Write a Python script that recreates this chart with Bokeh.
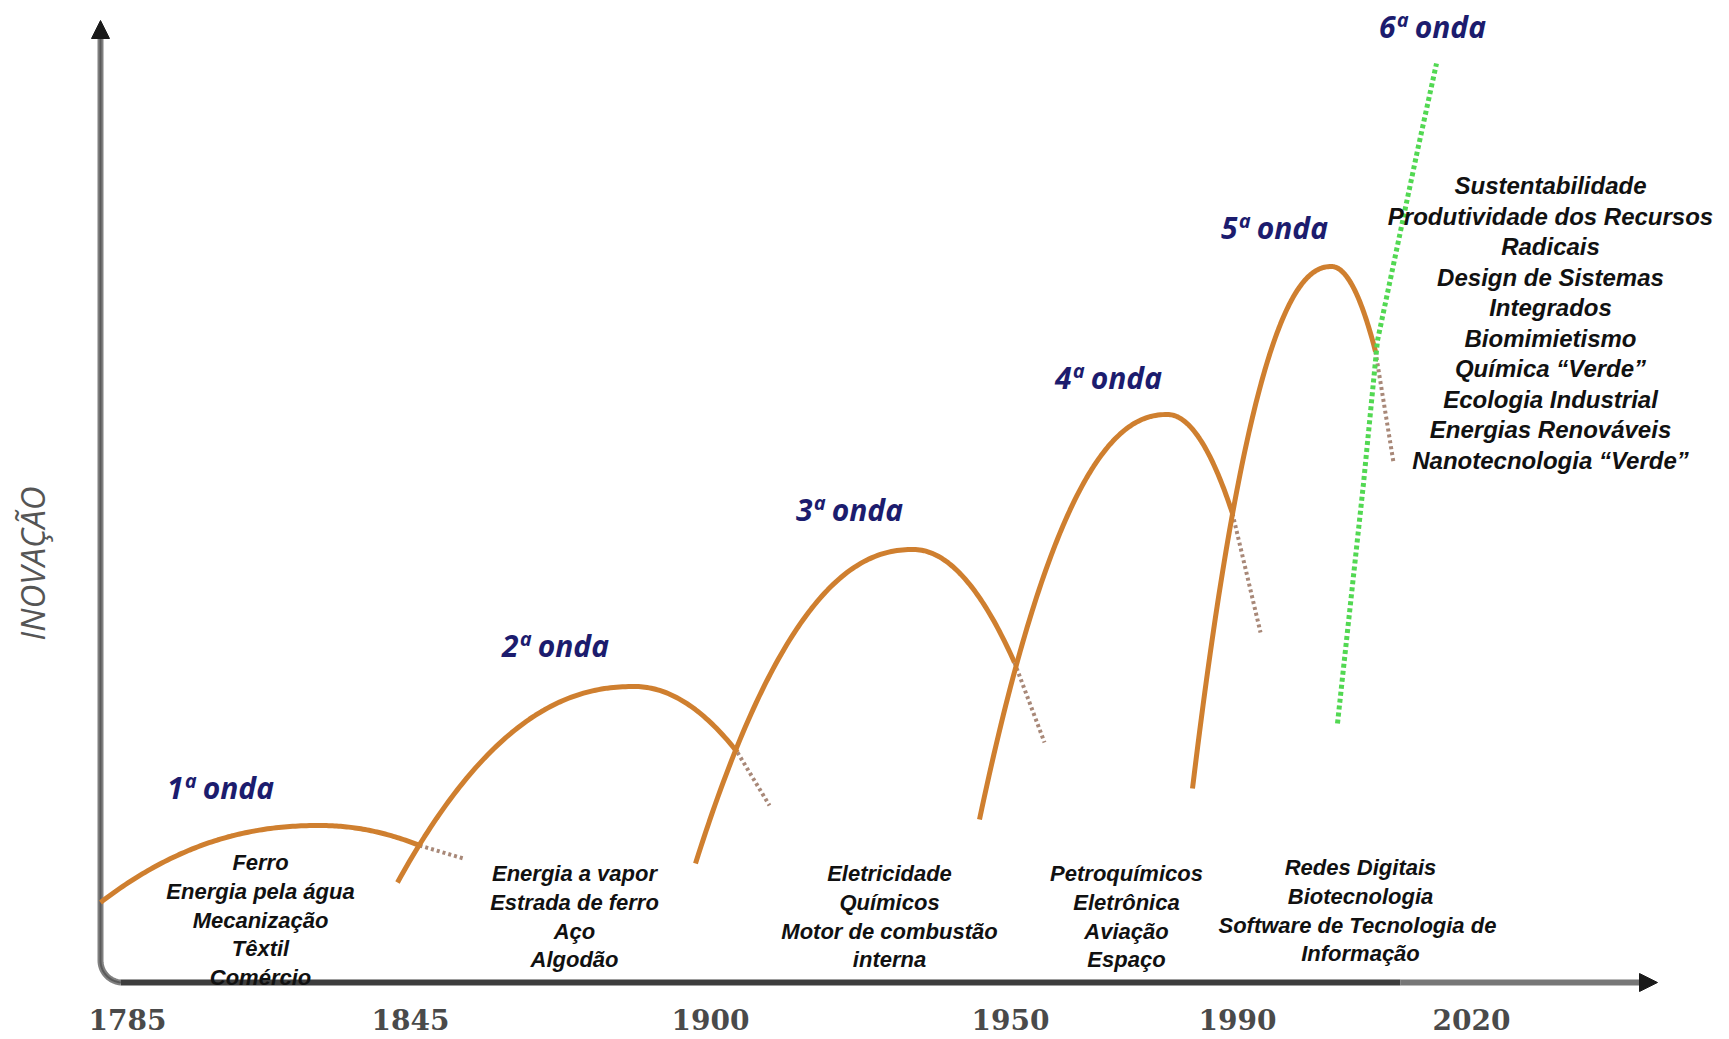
import numpy as np
from bokeh.plotting import figure
from bokeh.models import Range1d, Arrow, NormalHead, ColumnDataSource
from bokeh.core.properties import value
from bokeh.embed import file_html
from bokeh.resources import INLINE

# ---------------- data ----------------
wave_labels = ["1ª onda", "2ª onda", "3ª onda", "4ª onda", "5ª onda", "6ª onda"]
year_labels = ["1785", "1845", "1900", "1950", "1990", "2020"]

# wave geometry (innovation level vs. time position)
start_x = [0, 297, 595, 879, 1092]
start_y = [80, 100, 119, 163, 194]
peak_x = [220, 534, 813, 1067, 1231]
peak_y = [157, 296, 433, 568, 716]
cross_x = [319, 637, 914, 1132, 1275]
cross_y = [137, 230, 320, 469, 631]
fade_x = [363, 669, 944, 1160, 1293]
fade_y = [124, 177, 240, 350, 520]
green_x = [1237, 1263, 1277, 1317, 1336]
green_y = [259, 499, 642, 832, 919]

tech_1 = ["Ferro", "Energia pela água", "Mecanização", "Têxtil", "Comércio"]
tech_2 = ["Energia a vapor", "Estrada de ferro", "Aço", "Algodão"]
tech_3 = ["Eletricidade", "Químicos", "Motor de combustão", "interna"]
tech_4 = ["Petroquímicos", "Eletrônica", "Aviação", "Espaço"]
tech_5 = ["Redes Digitais", "Biotecnologia", "Software de Tecnologia  de", "Informação"]
tech_6 = ["Sustentabilidade", "Produtividade dos Recursos", "Radicais",
          "Design de Sistemas", "Integrados", "Biomimietismo",
          "Química “Verde”", "Ecologia Industrial", "Energias Renováveis",
          "Nanotecnologia “Verde”"]

# ---------------- layout ----------------
year_pos = [27, 310, 610, 910, 1137, 1371]
label_pos_x = [120, 455, 749, 1008, 1174, 1332]
label_pos_y = [195, 337, 473, 605, 755, 956]
block_x = [160, 474, 789, 1026, 1260, 1450]
block_top = [120, 109, 109, 109, 115, 797]
block_step = [28.8, 28.8, 28.8, 28.8, 28.8, 30.5]
block_size = ["22px", "22px", "22px", "22px", "22px", "24px"]

W, H = 1729, 1039
p = figure(width=W, height=H, x_range=Range1d(-100, W - 100), y_range=Range1d(982 - H, 982),
           output_backend="svg", toolbar_location=None, min_border=0,
           x_axis_location=None, y_axis_location=None)
p.grid.visible = False
p.outline_line_color = None
p.background_fill_color = "white"
p.border_fill_color = "white"

# ---------------- axes (drawn) ----------------
r = 22
t = np.linspace(np.pi, 1.5 * np.pi, 20)
ax_x = np.concatenate([[0, 0], r + r * np.cos(t), [1300]])
ax_y = np.concatenate([[952, r], r + r * np.sin(t), [0]])
p.line(ax_x[:-2], ax_y[:-2], line_color="#808080", line_width=6)
p.line(ax_x[:-2], ax_y[:-2], line_color="#5a5a5a", line_width=2)
p.line(ax_x[-3:], ax_y[-3:], line_color="#3d3d3d", line_width=6)
p.line([1300, 1548], [0, 0], line_color="#777777", line_width=6)
p.add_layout(Arrow(end=NormalHead(size=18, fill_color="#1a1a1a", line_color="#1a1a1a"),
                   x_start=0, y_start=940, x_end=0, y_end=962, line_color=None))
p.add_layout(Arrow(end=NormalHead(size=18, fill_color="#1a1a1a", line_color="#1a1a1a"),
                   x_start=1530, y_start=0, x_end=1557, y_end=0, line_color=None))

p.text(x=year_pos, y=[-37] * len(year_pos), text=year_labels,
       text_font=value("DejaVu Serif"), text_font_style="bold", text_font_size="28px",
       text_color="#4a4a4a", text_align="center", text_baseline="middle")
p.text(x=[-68], y=[419], text=["INOVAÇÃO"], angle=np.pi / 2,
       text_font=value("Open Sans"), text_font_style="italic", text_font_size="33px",
       text_color="#555555", text_align="center", text_baseline="middle")

# ---------------- waves ----------------
brown = "#cf7f2f"
for i in range(len(start_x)):
    xs = np.linspace(start_x[i], peak_x[i], 80)
    ys = peak_y[i] - (peak_y[i] - start_y[i]) * ((peak_x[i] - xs) / (peak_x[i] - start_x[i])) ** 2.2
    xd = np.linspace(peak_x[i], cross_x[i], 50)
    yd = peak_y[i] - (peak_y[i] - cross_y[i]) * ((xd - peak_x[i]) / (cross_x[i] - peak_x[i])) ** 2
    p.line(np.concatenate([xs, xd[1:]]), np.concatenate([ys, yd[1:]]),
           line_color=brown, line_width=5)
    p.line([cross_x[i], fade_x[i]], [cross_y[i], fade_y[i]],
           line_color="#a88878", line_width=4, line_dash="3 3")

p.line(green_x, green_y, line_color="#52d852", line_width=5, line_dash="4 3")

# ---------------- labels ----------------
p.text(x=label_pos_x, y=label_pos_y, text=wave_labels,
       text_font=value("Open Sans"), text_font_style="bold italic", text_font_size="30px",
       text_color="#1c1c6e", text_align="center", text_baseline="middle")

blocks = [tech_1, tech_2, tech_3, tech_4, tech_5, tech_6]
for b, lines in enumerate(blocks):
    src = ColumnDataSource(dict(
        x=[block_x[b]] * len(lines),
        y=[block_top[b] - k * block_step[b] for k in range(len(lines))],
        text=lines))
    p.text(x="x", y="y", text="text", source=src,
           text_font=value("Liberation Sans"), text_font_style="bold italic",
           text_font_size=block_size[b], text_color="#111111",
           text_align="center", text_baseline="middle")

open("out.html", "w").write(file_html(p, INLINE))
